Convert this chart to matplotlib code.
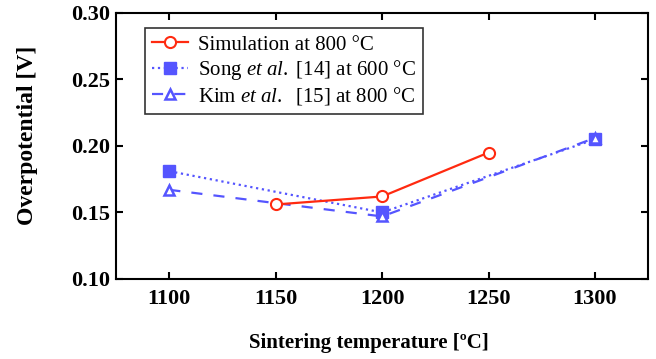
import matplotlib
matplotlib.use("Agg")
import matplotlib.pyplot as plt

plt.rcParams['font.family'] = ['Liberation Serif', 'DejaVu Serif']
plt.rcParams['mathtext.fontset'] = 'custom'
plt.rcParams['mathtext.rm'] = 'Liberation Serif'
plt.rcParams['mathtext.it'] = 'Liberation Serif:italic'

sim_x = [1150, 1200, 1250]
sim_y = [0.156, 0.162, 0.195]
song_x = [1100, 1200, 1300]
song_y = [0.181, 0.150, 0.205]
kim_x = [1100, 1200, 1300]
kim_y = [0.167, 0.147, 0.206]
xticks = [1100, 1150, 1200, 1250, 1300]
yticks = [0.10, 0.15, 0.20, 0.25, 0.30]

red = '#ff2a10'
blue = '#5555ff'

fig = plt.figure(figsize=(6.56, 3.59), dpi=100)
ax = fig.add_axes([0.177, 0.223, 0.811, 0.741])

ax.plot(sim_x, sim_y, color=red, lw=1.6, marker='o', ms=8, mfc='white',
        mec=red, mew=1.5, label='Simulation at 800 °C', zorder=3)
ax.plot(song_x, song_y, color=blue, lw=1.6, ls=':', marker='s', ms=8,
        mfc=blue, mec=blue, label=r'Song $et\ al.$ [14] at 600 °C', zorder=2)
ax.plot(kim_x, kim_y, color=blue, lw=1.6, ls=(0, (5, 5)), marker='^', ms=7,
        mfc='white', mec=blue, mew=1.8, label=r'Kim $et\ al.$  [15] at 800 °C', zorder=2.5)

ax.set_xlim(1075, 1325)
ax.set_ylim(0.10, 0.30)
ax.set_xticks(xticks)
ax.set_yticks(yticks)
ax.set_xticklabels([str(v) for v in xticks], fontweight='bold', fontsize=16)
ax.set_yticklabels(['%.2f' % v for v in yticks], fontweight='bold', fontsize=16)
ax.tick_params(direction='in', length=5, width=1.5, top=True, right=True)
ax.tick_params(axis='x', pad=7)
ax.tick_params(axis='y', pad=4)
for s in ax.spines.values():
    s.set_linewidth(1.5)

ax.set_xlabel('Sintering temperature [ºC]', fontweight='bold', fontsize=15, va='center')
ax.set_ylabel('Overpotential [V]', fontweight='bold', fontsize=17, va='center')
ax.xaxis.set_label_coords(0.476, -0.241)
ax.yaxis.set_label_coords(-0.167, 0.541)

leg = ax.legend(loc='upper left', bbox_to_anchor=(0.0545, 0.944), borderaxespad=0,
                fontsize=15, frameon=True, fancybox=False, edgecolor='black',
                handlelength=1.7, borderpad=0.35, labelspacing=0.15, handletextpad=0.5)
leg.get_frame().set_linewidth(1.2)

fig.savefig('out.png', dpi=100)
